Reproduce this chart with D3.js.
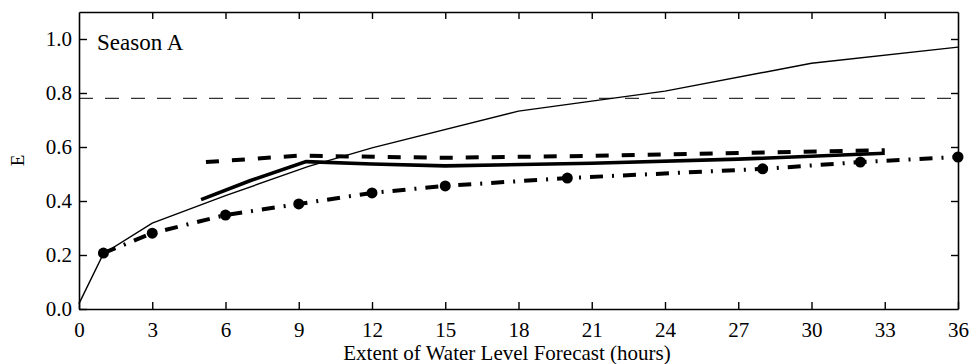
<!DOCTYPE html>
<html>
<head>
<meta charset="utf-8">
<script src="https://cdn.jsdelivr.net/npm/d3@7"></script>
<style>
  body { margin: 0; background: #fff; }
  svg { display: block; }
  svg text { font-family: "Liberation Serif", "DejaVu Serif", serif; }
</style>
</head>
<body>
<div id="container"></div>
<script>
/* DATA */
const thinHours = [0, 1, 3, 6, 9.4, 12, 18, 24, 30, 36];
const thinE = [0.02, 0.205, 0.318, 0.42, 0.528, 0.597, 0.733, 0.807, 0.91, 0.97];

const thickHours = [5, 7, 9.3, 12, 15, 21, 27, 33];
const thickE = [0.405, 0.475, 0.546, 0.537, 0.53, 0.54, 0.555, 0.577];

const dashHours = [5.2, 9, 15, 21, 27, 33];
const dashE = [0.544, 0.568, 0.56, 0.567, 0.578, 0.588];

const dotHours = [1, 3, 6, 9, 12, 15, 20, 28, 32, 36];
const dotE = [0.207, 0.281, 0.348, 0.389, 0.43, 0.456, 0.485, 0.519, 0.544, 0.563];

const refLevel = 0.78;

const xTicks = [0, 3, 6, 9, 12, 15, 18, 21, 24, 27, 30, 33, 36];
const yTicks = [0, 0.2, 0.4, 0.6, 0.8, 1.0];

/* CONSTANTS */
const width = 971, height = 364,
  margin = { top: 12, bottom: 55, left: 79, right: 13 };
const serif = "Liberation Serif";

const svg = d3.select("#container")
  .append("svg")
  .attr("width", width)
  .attr("height", height);

const xScale = d3.scaleLinear()
  .domain([0, 36])
  .range([margin.left, width - margin.right]);

const yScale = d3.scaleLinear()
  .domain([0, 1.1])
  .range([height - margin.bottom, margin.top]);

const toPts = (xs, ys) => xs.map((x, i) => [x, ys[i]]);

const line = d3.line()
  .x(d => xScale(d[0]))
  .y(d => yScale(d[1]));

// reference dashed level
svg.append("line")
  .attr("x1", xScale(0))
  .attr("x2", xScale(36))
  .attr("y1", yScale(refLevel))
  .attr("y2", yScale(refLevel))
  .attr("stroke", "#333")
  .attr("stroke-width", 1.3)
  .attr("stroke-dasharray", "14,12");

// thin solid
svg.append("path")
  .attr("d", line(toPts(thinHours, thinE)))
  .attr("fill", "none")
  .attr("stroke", "#000")
  .attr("stroke-width", 1.4);

// thick solid
svg.append("path")
  .attr("d", line(toPts(thickHours, thickE)))
  .attr("fill", "none")
  .attr("stroke", "#000")
  .attr("stroke-width", 3.6);

// thick dashed
svg.append("path")
  .attr("d", line(toPts(dashHours, dashE)))
  .attr("fill", "none")
  .attr("stroke", "#000")
  .attr("stroke-width", 4)
  .attr("stroke-dasharray", "13,13");

// dash-dot with markers
svg.append("path")
  .attr("d", line(toPts(dotHours, dotE)))
  .attr("fill", "none")
  .attr("stroke", "#000")
  .attr("stroke-width", 4)
  .attr("stroke-dasharray", "13,9,2,9");

svg.selectAll("circle.pt")
  .data(toPts(dotHours, dotE))
  .join("circle")
  .attr("class", "pt")
  .attr("cx", d => xScale(d[0]))
  .attr("cy", d => yScale(d[1]))
  .attr("r", 5.5)
  .attr("fill", "#000");

/* AXES */
const x0 = xScale(0), x1 = xScale(36), y0 = yScale(0), y1 = yScale(1.1);

svg.append("g")
  .attr("transform", `translate(0,${y0})`)
  .call(d3.axisBottom(xScale).tickValues(xTicks).tickSizeInner(-7).tickSizeOuter(0).tickPadding(13))
  .call(g => g.selectAll(".tick text").attr("font-size", "21px").attr("font-family", serif));

svg.append("g")
  .attr("transform", `translate(0,${y1})`)
  .call(d3.axisTop(xScale).tickValues(xTicks.slice(1, -1)).tickSizeInner(-7).tickSizeOuter(0).tickFormat(""));

svg.append("g")
  .attr("transform", `translate(${x0},0)`)
  .call(d3.axisLeft(yScale).tickValues(yTicks).tickSizeInner(-8).tickSizeOuter(0).tickPadding(7).tickFormat(d3.format(".1f")))
  .call(g => g.selectAll(".tick text").attr("font-size", "21px").attr("font-family", serif));

svg.append("g")
  .attr("transform", `translate(${x1},0)`)
  .call(d3.axisRight(yScale).tickValues(yTicks.slice(1)).tickSizeInner(-7).tickSizeOuter(0).tickFormat(""));

svg.selectAll(".domain").attr("stroke-width", 1.6);
svg.selectAll(".tick line").attr("stroke-width", 1.4);

svg.append("text")
  .attr("x", 507)
  .attr("y", 360)
  .attr("text-anchor", "middle")
  .attr("font-family", serif)
  .attr("font-size", "21px")
  .text("Extent of Water Level Forecast (hours)");

svg.append("text")
  .attr("transform", `translate(24,${(y0 + y1) / 2}) rotate(-90)`)
  .attr("text-anchor", "middle")
  .attr("font-family", serif)
  .attr("font-size", "19px")
  .text("E");

svg.append("text")
  .attr("x", 97)
  .attr("y", 50)
  .attr("font-family", serif)
  .attr("font-size", "23px")
  .text("Season A");
</script>
</body>
</html>
